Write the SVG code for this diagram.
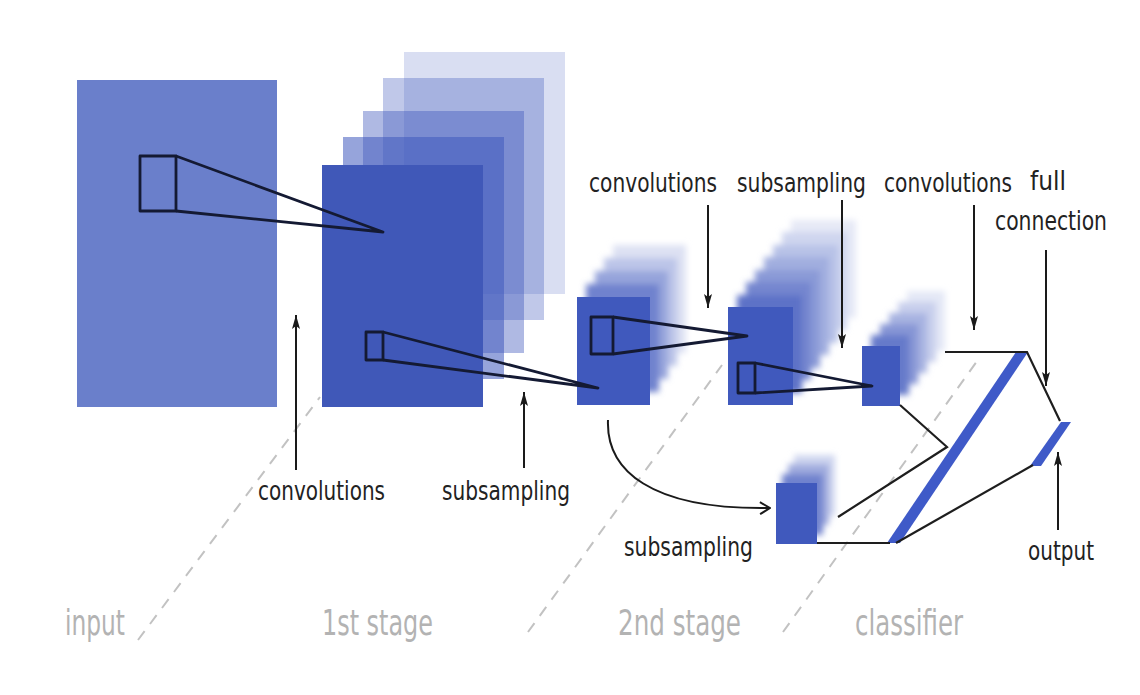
<svg xmlns="http://www.w3.org/2000/svg" width="1140" height="695" viewBox="0 0 1140 695">
  <defs>
    <style>
      .lbl { font-family: "DejaVu Sans Condensed", "DejaVu Sans", sans-serif; font-size: 26px; fill: #222; }
      .stage { font-family: "DejaVu Sans Condensed", "DejaVu Sans", sans-serif; font-size: 36px; fill: #b3b3b3; }
      .kern { fill: none; stroke: #141a33; stroke-width: 2.8; stroke-linejoin: round; }
      .arr { fill: none; stroke: #1a1a1a; stroke-width: 2; marker-end: url(#ah); }
      .wire { fill: none; stroke: #1e1e1e; stroke-width: 2.2; }
      .dash { fill: none; stroke: #c2c2c2; stroke-width: 2; stroke-dasharray: 11 9; }
      .blue { fill: #4059bd; }
    </style>
    <marker id="ah" viewBox="0 0 14 8" refX="14" refY="4" markerWidth="14" markerHeight="8" markerUnits="userSpaceOnUse" orient="auto">
      <path d="M0,0 L14,4 L0,8 L3,4 z" fill="#1a1a1a"/>
    </marker>
    <marker id="oh" viewBox="0 0 12 14" refX="11" refY="7" markerWidth="12" markerHeight="14" markerUnits="userSpaceOnUse" orient="auto">
      <path d="M1,1 L11,7 L1,13" fill="none" stroke="#1a1a1a" stroke-width="2"/>
    </marker>
    <filter id="soft" x="-25%" y="-25%" width="150%" height="150%">
      <feGaussianBlur stdDeviation="3.2"/>
    </filter>
  </defs>
  <rect width="1140" height="695" fill="#ffffff"/>

  <!-- stage divider dashed lines -->
  <g id="dividers">
    <line class="dash" x1="138" y1="640" x2="320" y2="397"/>
    <line class="dash" x1="528" y1="632" x2="722" y2="365"/>
    <line class="dash" x1="783" y1="632" x2="980" y2="357"/>
  </g>

  <g id="input">
    <rect x="77" y="80" width="200" height="327" fill="#6a7fcb"/>
    <rect class="kern" x="140" y="156" width="36" height="55"/>
  </g>

  <g id="stage1-maps">
    <rect x="404" y="52" width="161" height="242" fill="#4059bd" fill-opacity="0.2"/>
    <rect x="383" y="78" width="161" height="242" fill="#4059bd" fill-opacity="0.33"/>
    <rect x="363" y="111" width="161" height="242" fill="#4059bd" fill-opacity="0.42"/>
    <rect x="343" y="137" width="161" height="242" fill="#4059bd" fill-opacity="0.55"/>
    <rect x="322" y="165" width="161" height="242" fill="#4058b8"/>
    <rect class="kern" x="366" y="332" width="17" height="28"/>
  </g>

  <g id="stage2-conv-maps">
    <g filter="url(#soft)">
      <rect x="613" y="245" width="73" height="108" fill="#dde1f3"/>
      <rect x="604" y="258" width="73" height="108" fill="#bcc5e8"/>
      <rect x="595" y="271" width="73" height="108" fill="#96a4db"/>
      <rect x="586" y="284" width="73" height="108" fill="#7082ce"/>
    </g>
    <rect class="blue" x="577" y="297" width="73" height="108"/>
    <rect class="kern" x="591" y="317" width="22" height="37"/>
  </g>

  <g id="stage2-sub-maps">
    <g filter="url(#soft)">
      <rect x="791" y="220" width="65" height="98" fill="#e6e9f6"/>
      <rect x="782" y="232" width="65" height="98" fill="#cfd6ef"/>
      <rect x="773" y="245" width="65" height="98" fill="#b8c2e7"/>
      <rect x="764" y="257" width="65" height="98" fill="#a1aedf"/>
      <rect x="755" y="270" width="65" height="98" fill="#8a9ad7"/>
      <rect x="746" y="282" width="65" height="98" fill="#7486cf"/>
      <rect x="737" y="295" width="65" height="98" fill="#5d72c7"/>
    </g>
    <rect class="blue" x="728" y="307" width="65" height="98"/>
    <rect class="kern" x="738" y="363" width="17" height="30"/>
  </g>

  <g id="classifier-conv-maps">
    <g filter="url(#soft)">
      <rect x="907" y="291" width="38" height="60" fill="#e4e8f6"/>
      <rect x="898" y="302" width="38" height="60" fill="#c8cfec"/>
      <rect x="889" y="313" width="38" height="60" fill="#a7b3e1"/>
      <rect x="880" y="324" width="38" height="60" fill="#8796d5"/>
      <rect x="871" y="335" width="38" height="60" fill="#667aca"/>
    </g>
    <rect class="blue" x="862" y="346" width="38" height="60"/>
  </g>

  <g id="subsampled-maps">
    <g filter="url(#soft)">
      <rect x="794" y="455" width="41" height="61" fill="#cfd6ef"/>
      <rect x="788" y="464" width="41" height="61" fill="#a0acde"/>
      <rect x="782" y="474" width="41" height="61" fill="#7082ce"/>
    </g>
    <rect class="blue" x="776" y="483" width="41" height="61"/>
  </g>

  <g id="full-layer">
    <polygon points="1016,352 1028,352 900,543 887,543" fill="#3f5ac8"/>
  </g>

  <g id="output-layer">
    <polygon points="1061,422 1071,422 1041,466 1030,466" fill="#3f5ac8"/>
  </g>

  <g id="connectors">
    <!-- receptive field cones -->
    <polyline class="kern" points="176,156 383,232 176,211"/>
    <polyline class="kern" points="383,332 598,388 383,360"/>
    <polyline class="kern" points="613,317 747,336 613,354"/>
    <polyline class="kern" points="755,363 872,386 755,393"/>
    <!-- classifier wiring -->
    <polyline class="wire" points="945,352 1027,352 1060,421"/>
    <polyline class="wire" points="900,405 947,447 838,517"/>
    <line class="wire" x1="817" y1="543" x2="890" y2="543"/>
    <line class="wire" x1="896" y1="543" x2="1033" y2="465"/>
    <!-- curved subsampling arrow -->
    <path d="M608,420 C606,470 650,510 770,508" fill="none" stroke="#1a1a1a" stroke-width="2" marker-end="url(#oh)"/>
    <!-- label arrows -->
    <line class="arr" x1="296" y1="470" x2="296" y2="315"/>
    <line class="arr" x1="524" y1="468" x2="524" y2="392"/>
    <line class="arr" x1="708" y1="205" x2="708" y2="308"/>
    <line class="arr" x1="842" y1="200" x2="842" y2="348"/>
    <line class="arr" x1="974" y1="205" x2="974" y2="330"/>
    <line class="arr" x1="1046" y1="250" x2="1046" y2="386"/>
    <line class="arr" x1="1058" y1="530" x2="1058" y2="452"/>
  </g>

  <g id="labels">
    <text class="lbl" x="589" y="192" textLength="128" lengthAdjust="spacingAndGlyphs">convolutions</text>
    <text class="lbl" x="737" y="192" textLength="129" lengthAdjust="spacingAndGlyphs">subsampling</text>
    <text class="lbl" x="884" y="192" textLength="128" lengthAdjust="spacingAndGlyphs">convolutions</text>
    <text class="lbl" x="1030" y="190" textLength="36" lengthAdjust="spacingAndGlyphs">full</text>
    <text class="lbl" x="995" y="230" textLength="112" lengthAdjust="spacingAndGlyphs">connection</text>
    <text class="lbl" x="258" y="500" textLength="127" lengthAdjust="spacingAndGlyphs">convolutions</text>
    <text class="lbl" x="442" y="500" textLength="128" lengthAdjust="spacingAndGlyphs">subsampling</text>
    <text class="lbl" x="624" y="556" textLength="129" lengthAdjust="spacingAndGlyphs">subsampling</text>
    <text class="lbl" x="1028" y="560" textLength="66" lengthAdjust="spacingAndGlyphs">output</text>
    <text class="stage" x="65" y="635" textLength="60" lengthAdjust="spacingAndGlyphs">input</text>
    <text class="stage" x="322" y="635" textLength="111" lengthAdjust="spacingAndGlyphs">1st stage</text>
    <text class="stage" x="618" y="635" textLength="123" lengthAdjust="spacingAndGlyphs">2nd stage</text>
    <text class="stage" x="855" y="635" textLength="108" lengthAdjust="spacingAndGlyphs">classifier</text>
  </g>
</svg>
